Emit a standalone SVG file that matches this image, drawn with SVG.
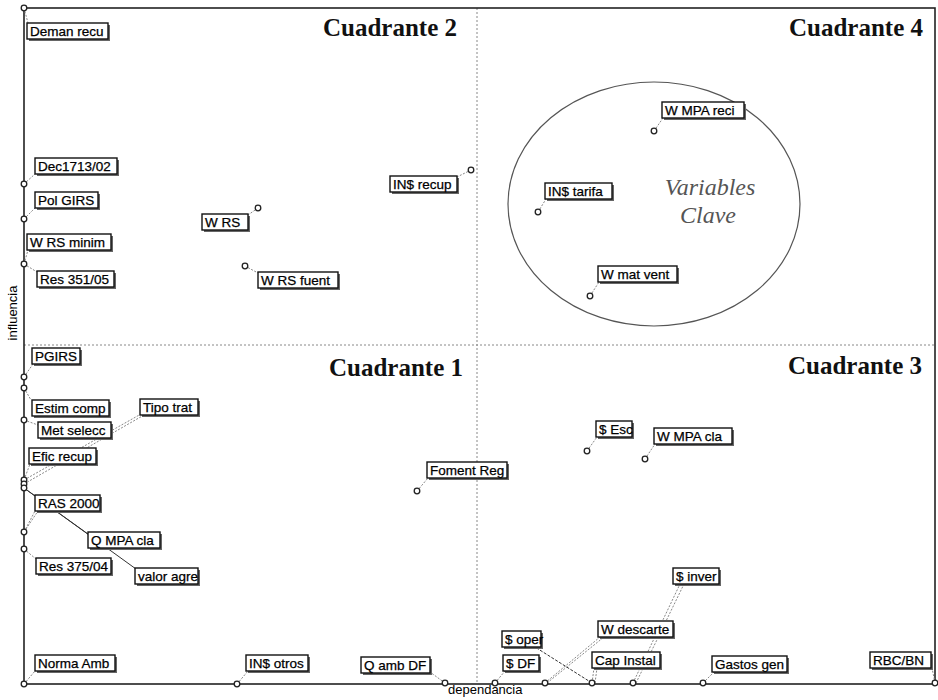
<svg xmlns="http://www.w3.org/2000/svg" width="938" height="700" viewBox="0 0 938 700">
<defs>
<style>
.frame{fill:none;stroke:#222;stroke-width:1.6}
.mid{stroke:#888;stroke-width:1;stroke-dasharray:2 2;fill:none}
.lead{stroke:#888;stroke-width:1;stroke-dasharray:2 1.5;fill:none}
.leadd{stroke:#333;stroke-width:1;fill:none}
.pt{fill:#fff;stroke:#222;stroke-width:1.3}
.box{fill:#fff;stroke:#111;stroke-width:1.4}
.sh{fill:#666}
.lbl{font-family:"Liberation Sans",Arial,sans-serif;font-size:13.5px;fill:#000;stroke:#000;stroke-width:0.25}
.quad{font-family:"Liberation Serif","Times New Roman",serif;font-size:25px;font-weight:bold;fill:#111}
.key{font-family:"Liberation Serif","Times New Roman",serif;font-size:24px;font-style:italic;fill:#555}
.axis{font-family:"Liberation Sans",Arial,sans-serif;font-size:13px;fill:#000}
</style>
</defs>
<rect x="0" y="0" width="938" height="700" fill="#fff"/>
<g id="frame">
<line class="mid" x1="477" y1="8" x2="477" y2="684"/>
<line class="mid" x1="24" y1="345" x2="935" y2="345"/>
<rect class="frame" x="24" y="8" width="911" height="676"/>
<ellipse cx="654" cy="204" rx="146" ry="122" fill="none" stroke="#555" stroke-width="1.2"/>
<text class="quad" x="457" y="36" text-anchor="end">Cuadrante 2</text>
<text class="quad" x="923" y="36" text-anchor="end">Cuadrante 4</text>
<text class="quad" x="463" y="376" text-anchor="end">Cuadrante 1</text>
<text class="quad" x="922" y="374" text-anchor="end">Cuadrante 3</text>
<text class="key" x="710" y="195" text-anchor="middle">Variables</text>
<text class="key" x="708" y="223" text-anchor="middle">Clave</text>
<text class="axis" x="17" y="313" text-anchor="middle" transform="rotate(-90 17 313)">influencia</text>
<text class="axis" x="448" y="694">dependancia</text>
</g>
<g id="connectors">
<line class="lead" x1="24" y1="8" x2="28" y2="23"/>
<line class="lead" x1="24" y1="184" x2="35" y2="174"/>
<line class="lead" x1="24" y1="219" x2="35" y2="208"/>
<line class="lead" x1="24" y1="264" x2="28" y2="250"/>
<line class="lead" x1="24" y1="264" x2="37" y2="272"/>
<line class="lead" x1="258" y1="208" x2="248" y2="215"/>
<line class="lead" x1="245" y1="266" x2="258" y2="273"/>
<line class="lead" x1="471" y1="170" x2="457" y2="177"/>
<line class="lead" x1="654" y1="131" x2="663" y2="118"/>
<line class="lead" x1="538" y1="212" x2="546" y2="199"/>
<line class="lead" x1="590" y1="296" x2="599" y2="282"/>
<line class="lead" x1="24" y1="377" x2="33" y2="364"/>
<line class="lead" x1="24" y1="388" x2="31" y2="400"/>
<line class="lead" x1="24" y1="420" x2="38" y2="425"/>
<line class="lead" x1="24" y1="480" x2="141" y2="414"/>
<line class="lead" x1="24" y1="484" x2="144" y2="415"/>
<line class="lead" x1="24" y1="480" x2="30" y2="464"/>
<line class="lead" x1="24" y1="532" x2="35" y2="511"/>
<line class="lead" x1="24" y1="532" x2="38" y2="511"/>
<line class="leadd" x1="24" y1="488" x2="88" y2="534"/>
<line class="leadd" x1="24" y1="488" x2="136" y2="569"/>
<line class="lead" x1="24" y1="549" x2="36" y2="559"/>
<line class="lead" x1="417" y1="491" x2="428" y2="478"/>
<line class="lead" x1="587" y1="451" x2="597" y2="437"/>
<line class="lead" x1="645" y1="459" x2="655" y2="444"/>
<line class="lead" x1="24" y1="684" x2="35" y2="671"/>
<line class="lead" x1="237" y1="684" x2="248" y2="671"/>
<line class="lead" x1="445" y1="683" x2="430" y2="672"/>
<line class="lead" x1="495" y1="683" x2="505" y2="671"/>
<line class="leadd" x1="592" y1="683" x2="535" y2="647" stroke-dasharray="3 1.5"/>
<line class="lead" x1="545" y1="683" x2="600" y2="637"/>
<line class="lead" x1="547" y1="683" x2="604" y2="637"/>
<line class="lead" x1="592" y1="683" x2="594" y2="668"/>
<line class="lead" x1="595" y1="683" x2="597" y2="668"/>
<line class="lead" x1="633" y1="683" x2="680" y2="584"/>
<line class="lead" x1="636" y1="683" x2="684" y2="584"/>
<line class="lead" x1="703" y1="683" x2="714" y2="672"/>
<line class="lead" x1="935" y1="683" x2="932" y2="668"/>
</g>
<g id="points">
<circle class="pt" cx="24" cy="8" r="2.8"/>
<circle class="pt" cx="24" cy="184" r="2.8"/>
<circle class="pt" cx="24" cy="219" r="2.8"/>
<circle class="pt" cx="24" cy="264" r="2.8"/>
<circle class="pt" cx="258" cy="208" r="2.8"/>
<circle class="pt" cx="245" cy="266" r="2.8"/>
<circle class="pt" cx="471" cy="170" r="2.8"/>
<circle class="pt" cx="654" cy="131" r="2.8"/>
<circle class="pt" cx="538" cy="212" r="2.8"/>
<circle class="pt" cx="590" cy="296" r="2.8"/>
<circle class="pt" cx="24" cy="377" r="2.8"/>
<circle class="pt" cx="24" cy="388" r="2.8"/>
<circle class="pt" cx="24" cy="420" r="2.8"/>
<circle class="pt" cx="24" cy="480" r="2.8"/>
<circle class="pt" cx="24" cy="484" r="2.8"/>
<circle class="pt" cx="24" cy="488" r="2.8"/>
<circle class="pt" cx="24" cy="532" r="2.8"/>
<circle class="pt" cx="24" cy="549" r="2.8"/>
<circle class="pt" cx="417" cy="491" r="2.8"/>
<circle class="pt" cx="587" cy="451" r="2.8"/>
<circle class="pt" cx="645" cy="459" r="2.8"/>
<circle class="pt" cx="24" cy="684" r="2.8"/>
<circle class="pt" cx="237" cy="684" r="2.8"/>
<circle class="pt" cx="445" cy="683" r="2.8"/>
<circle class="pt" cx="495" cy="683" r="2.8"/>
<circle class="pt" cx="545" cy="683" r="2.8"/>
<circle class="pt" cx="592" cy="683" r="2.8"/>
<circle class="pt" cx="633" cy="683" r="2.8"/>
<circle class="pt" cx="703" cy="683" r="2.8"/>
<circle class="pt" cx="935" cy="683" r="2.8"/>
</g>
<g id="n-deman-recu"><rect class="sh" x="29" y="25" width="81" height="16"/><rect class="box" x="27" y="23" width="81" height="16"/><text class="lbl" x="30" y="36">Deman recu</text></g>
<g id="n-dec1713"><rect class="sh" x="37" y="160" width="82" height="16"/><rect class="box" x="35" y="158" width="82" height="16"/><text class="lbl" x="38" y="171">Dec1713/02</text></g>
<g id="n-pol-girs"><rect class="sh" x="37" y="194" width="63" height="16"/><rect class="box" x="35" y="192" width="63" height="16"/><text class="lbl" x="38" y="205">Pol GIRS</text></g>
<g id="n-w-rs-minim"><rect class="sh" x="29" y="236" width="84" height="16"/><rect class="box" x="27" y="234" width="84" height="16"/><text class="lbl" x="30" y="247">W RS minim</text></g>
<g id="n-res-351"><rect class="sh" x="39" y="273" width="77" height="16"/><rect class="box" x="37" y="271" width="77" height="16"/><text class="lbl" x="40" y="284">Res 351/05</text></g>
<g id="n-w-rs"><rect class="sh" x="204" y="216" width="46" height="16"/><rect class="box" x="202" y="214" width="46" height="16"/><text class="lbl" x="205" y="227">W RS</text></g>
<g id="n-w-rs-fuent"><rect class="sh" x="260" y="274" width="80" height="16"/><rect class="box" x="258" y="272" width="80" height="16"/><text class="lbl" x="261" y="285">W RS fuent</text></g>
<g id="n-in-recup"><rect class="sh" x="392" y="178" width="67" height="16"/><rect class="box" x="390" y="176" width="67" height="16"/><text class="lbl" x="393" y="189">IN$ recup</text></g>
<g id="n-w-mpa-reci"><rect class="sh" x="664" y="104" width="82" height="16"/><rect class="box" x="662" y="102" width="82" height="16"/><text class="lbl" x="665" y="115">W MPA reci</text></g>
<g id="n-in-tarifa"><rect class="sh" x="547" y="185" width="67" height="16"/><rect class="box" x="545" y="183" width="67" height="16"/><text class="lbl" x="548" y="196">IN$ tarifa</text></g>
<g id="n-w-mat-vent"><rect class="sh" x="600" y="268" width="79" height="16"/><rect class="box" x="598" y="266" width="79" height="16"/><text class="lbl" x="601" y="279">W mat vent</text></g>
<g id="n-pgirs"><rect class="sh" x="34" y="350" width="48" height="16"/><rect class="box" x="32" y="348" width="48" height="16"/><text class="lbl" x="35" y="361">PGIRS</text></g>
<g id="n-estim-comp"><rect class="sh" x="34" y="402" width="77" height="16"/><rect class="box" x="32" y="400" width="77" height="16"/><text class="lbl" x="35" y="413">Estim comp</text></g>
<g id="n-tipo-trat"><rect class="sh" x="142" y="401" width="58" height="16"/><rect class="box" x="140" y="399" width="58" height="16"/><text class="lbl" x="143" y="412">Tipo trat</text></g>
<g id="n-met-selecc"><rect class="sh" x="40" y="424" width="73" height="16"/><rect class="box" x="38" y="422" width="73" height="16"/><text class="lbl" x="41" y="435">Met selecc</text></g>
<g id="n-efic-recup"><rect class="sh" x="31" y="450" width="67" height="16"/><rect class="box" x="29" y="448" width="67" height="16"/><text class="lbl" x="32" y="461">Efic recup</text></g>
<g id="n-ras-2000"><rect class="sh" x="37" y="497" width="65" height="16"/><rect class="box" x="35" y="495" width="65" height="16"/><text class="lbl" x="38" y="508">RAS 2000</text></g>
<g id="n-q-mpa-cla"><rect class="sh" x="90" y="534" width="72" height="16"/><rect class="box" x="88" y="532" width="72" height="16"/><text class="lbl" x="91" y="545">Q MPA cla</text></g>
<g id="n-res-375"><rect class="sh" x="38" y="560" width="75" height="16"/><rect class="box" x="36" y="558" width="75" height="16"/><text class="lbl" x="39" y="571">Res 375/04</text></g>
<g id="n-valor-agre"><rect class="sh" x="137" y="570" width="63" height="16"/><rect class="box" x="135" y="568" width="63" height="16"/><text class="lbl" x="138" y="581">valor agre</text></g>
<g id="n-foment-reg"><rect class="sh" x="429" y="464" width="80" height="16"/><rect class="box" x="427" y="462" width="80" height="16"/><text class="lbl" x="430" y="475">Foment Reg</text></g>
<g id="n-esc"><rect class="sh" x="598" y="423" width="36" height="16"/><rect class="box" x="596" y="421" width="36" height="16"/><text class="lbl" x="599" y="434">$ Esc</text></g>
<g id="n-w-mpa-cla"><rect class="sh" x="656" y="430" width="78" height="16"/><rect class="box" x="654" y="428" width="78" height="16"/><text class="lbl" x="657" y="441">W MPA cla</text></g>
<g id="n-norma-amb"><rect class="sh" x="37" y="657" width="80" height="16"/><rect class="box" x="35" y="655" width="80" height="16"/><text class="lbl" x="38" y="668">Norma Amb</text></g>
<g id="n-in-otros"><rect class="sh" x="248" y="657" width="62" height="16"/><rect class="box" x="246" y="655" width="62" height="16"/><text class="lbl" x="249" y="668">IN$ otros</text></g>
<g id="n-q-amb-df"><rect class="sh" x="363" y="659" width="69" height="16"/><rect class="box" x="361" y="657" width="69" height="16"/><text class="lbl" x="364" y="670">Q amb DF</text></g>
<g id="n-oper"><rect class="sh" x="504" y="633" width="39" height="16"/><rect class="box" x="502" y="631" width="39" height="16"/><text class="lbl" x="505" y="644">$ oper</text></g>
<g id="n-df"><rect class="sh" x="505" y="657" width="36" height="16"/><rect class="box" x="503" y="655" width="36" height="16"/><text class="lbl" x="506" y="668">$ DF</text></g>
<g id="n-w-descarte"><rect class="sh" x="600" y="623" width="75" height="16"/><rect class="box" x="598" y="621" width="75" height="16"/><text class="lbl" x="601" y="634">W descarte</text></g>
<g id="n-cap-instal"><rect class="sh" x="594" y="654" width="68" height="16"/><rect class="box" x="592" y="652" width="68" height="16"/><text class="lbl" x="595" y="665">Cap Instal</text></g>
<g id="n-inver"><rect class="sh" x="675" y="570" width="46" height="16"/><rect class="box" x="673" y="568" width="46" height="16"/><text class="lbl" x="676" y="581">$ inver</text></g>
<g id="n-gastos-gen"><rect class="sh" x="714" y="658" width="75" height="16"/><rect class="box" x="712" y="656" width="75" height="16"/><text class="lbl" x="715" y="669">Gastos gen</text></g>
<g id="n-rbc-bn"><rect class="sh" x="872" y="654" width="61" height="16"/><rect class="box" x="870" y="652" width="61" height="16"/><text class="lbl" x="873" y="665">RBC/BN</text></g>
</svg>
